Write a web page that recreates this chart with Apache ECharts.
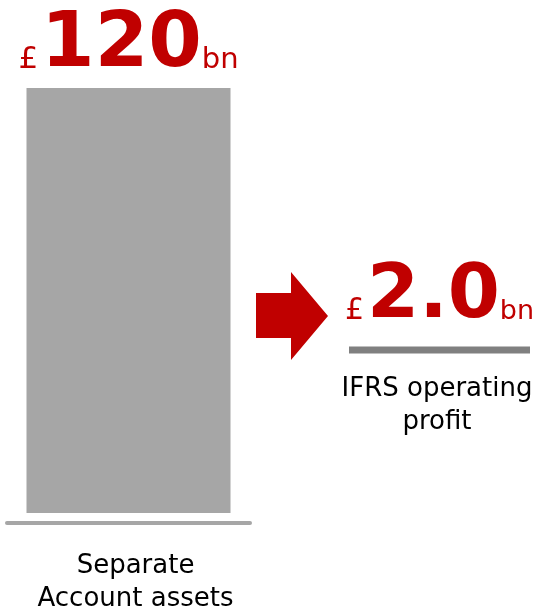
<!DOCTYPE html>
<html>

<head>
  <meta charset="utf-8">
  <title>Separate Account assets vs IFRS operating profit</title>
  <script src="https://cdn.jsdelivr.net/npm/echarts@6/dist/echarts.min.js"></script>
  <style>
    html, body { margin: 0; padding: 0; background: #fff; }
  </style>
</head>

<body>
  <div id="chart" style="width: 541px; height: 609px;"></div>

  <script>
    // data
    var categories = ['Separate\nAccount assets', 'IFRS operating\nprofit'];
    var values = [120, 2.0];
    var valueTexts = ['120', '2.0'];
    var unitPrefix = '£';
    var unitSuffix = 'bn';

    var red = '#c00000';
    var font = 'DejaVu Sans';

    var chart = echarts.init(document.getElementById('chart'));

    // rich tokens are bottom aligned, baseline sits ~0.207*fontSize above the token bottom,
    // so small tokens get bottom padding to share the big token's baseline
    var B = 0.207;
    function bigLabel(i, big, small1, small2, baselineGap) {
      return {
        show: true,
        position: 'top',
        distance: baselineGap - B * big,
        formatter: '{p|' + unitPrefix + '}{n|' + valueTexts[i] + '}{b|' + unitSuffix + '}',
        rich: {
          p: { fontFamily: font, fontSize: small1, color: red, verticalAlign: 'bottom', padding: [0, 3, B * (big - small1), 0] },
          n: { fontFamily: font, fontWeight: 'bold', fontSize: big, color: red, verticalAlign: 'bottom' },
          b: { fontFamily: font, fontSize: small2, color: red, verticalAlign: 'bottom', padding: [0, 0, B * (big - small2), 0] }
        }
      };
    }

    var option = {
      animation: false,
      grid: [
        { left: 7, width: 243, top: 88, bottom: 96, outerBoundsMode: 'none' },
        // same px per unit as first grid (425px / 120)
        { left: 349, width: 181, bottom: 255.5, height: 70.8, outerBoundsMode: 'none' }
      ],
      xAxis: [
        {
          type: 'category', gridIndex: 0, data: [categories[0]],
          offset: 10,
          axisLine: { show: true, onZero: false, lineStyle: { color: '#a6a6a6', width: 4 } },
          axisTick: { show: false },
          axisLabel: { margin: 27, padding: [0, 0, 0, 14], fontFamily: font, fontSize: 26, lineHeight: 33, color: '#000' }
        },
        {
          type: 'category', gridIndex: 1, data: [categories[1]],
          axisLine: { show: false },
          axisTick: { show: false },
          axisLabel: { margin: 19, padding: [0, 5, 0, 0], fontFamily: font, fontSize: 26, lineHeight: 33, color: '#000' }
        }
      ],
      yAxis: [
        { type: 'value', gridIndex: 0, min: 0, max: 120, show: false },
        { type: 'value', gridIndex: 1, min: 0, max: 20, show: false }
      ],
      series: [
        {
          type: 'bar', xAxisIndex: 0, yAxisIndex: 0,
          barWidth: 204,
          itemStyle: { color: '#a6a6a6' },
          label: bigLabel(0, 77, 31, 29, 19),
          data: [values[0]]
        },
        {
          type: 'bar', xAxisIndex: 1, yAxisIndex: 1,
          barWidth: 181,
          itemStyle: { color: '#808080' },
          label: bigLabel(1, 75, 30, 27, 26.5),
          data: [values[1]]
        }
      ],
      graphic: [
        {
          // red arrow between the two
          type: 'polygon',
          shape: { points: [[256, 293], [291, 293], [291, 272], [328, 316], [291, 360], [291, 338], [256, 338]] },
          style: { fill: red }
        }
      ]
    };

    chart.setOption(option);
  </script>
</body>

</html>
